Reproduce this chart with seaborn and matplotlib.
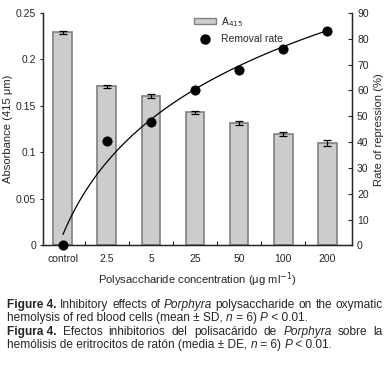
import numpy as np
import pandas as pd
import matplotlib
matplotlib.use("Agg")
import matplotlib.pyplot as plt
import seaborn as sns
from matplotlib.patches import Patch
from matplotlib.lines import Line2D
from matplotlib.ticker import FormatStrFormatter, FixedLocator, NullFormatter

sns.set_style("ticks")
plt.rcParams['font.family'] = ['Liberation Sans Narrow', 'Liberation Sans', 'DejaVu Sans']

# data
concentrations = ["control", "2.5", "5", "25", "50", "100", "200"]
absorbance = [0.229, 0.171, 0.161, 0.143, 0.132, 0.120, 0.110]
absorbance_sd = [0.0012, 0.002, 0.002, 0.0015, 0.002, 0.002, 0.003]
removal_rate = [0, 40.3, 47.8, 60.1, 67.9, 76.2, 83.1]

df = pd.DataFrame({"conc": concentrations, "A415": absorbance,
                   "sd": absorbance_sd, "rate": removal_rate})
df["idx"] = np.arange(len(df))

fig = plt.figure(figsize=(3.9, 3.68), dpi=100)
ax = fig.add_axes([0.110, 0.333, 0.793, 0.632])

sns.barplot(data=df, x="conc", y="A415", ax=ax, color="#cccccc",
            edgecolor="#808080", linewidth=1.2, width=0.43, saturation=1)
ax.errorbar(df["idx"], df["A415"], yerr=df["sd"], fmt="none",
            ecolor="black", elinewidth=0.9, capsize=3.2, capthick=0.9)

ax.set_xlim(-0.455, 6.57)
ax.set_ylim(0, 0.25)
ax.set_yticks([0, 0.05, 0.1, 0.15, 0.2, 0.25])
ax.yaxis.set_major_formatter(FormatStrFormatter('%g'))
ax.set_xlabel("Polysaccharide concentration (μg ml$^{-1}$)", fontsize=8.1, labelpad=5)
ax.set_ylabel("Absorbance (415 μm)", fontsize=8.1, labelpad=2)
ax.tick_params(axis="x", which="major", length=0, labelsize=7.5, pad=6)
ax.xaxis.set_minor_locator(FixedLocator([0.5, 1.5, 2.5, 3.5, 4.5, 5.5]))
ax.xaxis.set_minor_formatter(NullFormatter())
ax.tick_params(axis="x", which="minor", direction="in", length=3, width=0.8)
ax.tick_params(axis="y", direction="out", length=2.5, width=0.8, labelsize=7.5, pad=2.5)
for s in ax.spines.values():
    s.set_linewidth(0.9)
    s.set_color("black")
ax.spines["top"].set_visible(False)

ax2 = ax.twinx()
# logarithmic trendline through the removal rate points
coef = np.polyfit(np.log(df["idx"] + 1), df["rate"], 1)
xfit = np.linspace(0, 6, 200)
fit = pd.DataFrame({"x": xfit, "y": np.polyval(coef, np.log(xfit + 1))})
sns.lineplot(data=fit, x="x", y="y", ax=ax2, color="black", linewidth=0.9)
sns.scatterplot(data=df, x="idx", y="rate", ax=ax2, color="black", s=45,
                edgecolor="black", zorder=5, clip_on=False)
ax2.set_ylim(0, 90)
ax2.set_yticks(range(0, 91, 10))
ax2.set_ylabel("Rate of repression (%)", fontsize=8.1, labelpad=4)
ax2.tick_params(axis="y", direction="in", length=3, width=0.8, labelsize=7.5)
ax2.set_xlim(-0.455, 6.57)
ax2.set_xlabel("")
ax2.spines["top"].set_visible(False)
for s in ax2.spines.values():
    s.set_linewidth(0.9)

handles = [Patch(facecolor="#cccccc", edgecolor="#808080", linewidth=1.0),
           Line2D([], [], marker="o", linestyle="none", color="black", markersize=6.5)]
ax2.legend(handles, ["A$_{415}$", "Removal rate"], loc="upper left",
           bbox_to_anchor=(0.475, 1.01), frameon=False, fontsize=7.5,
           handlelength=2.1, handleheight=0.6, handletextpad=0.5, labelspacing=0.55,
           borderaxespad=0)

# caption, justified like the journal layout
caption = [
    ([("Figure 4.", "bold", "normal"), ("Inhibitory", "normal", "normal"),
      ("effects", "normal", "normal"), ("of", "normal", "normal"),
      ("Porphyra", "normal", "italic"), ("polysaccharide", "normal", "normal"),
      ("on", "normal", "normal"), ("the", "normal", "normal"),
      ("oxymatic", "normal", "normal")], True),
    ([("hemolysis of red blood cells (mean ± SD, ", "normal", "normal"),
      ("n", "normal", "italic"), (" = 6) ", "normal", "normal"),
      ("P", "normal", "italic"), (" < 0.01.", "normal", "normal")], False),
    ([("Figura 4.", "bold", "normal"), ("Efectos", "normal", "normal"),
      ("inhibitorios", "normal", "normal"), ("del", "normal", "normal"),
      ("polisacárido", "normal", "normal"), ("de", "normal", "normal"),
      ("Porphyra", "normal", "italic"), ("sobre", "normal", "normal"),
      ("la", "normal", "normal")], True),
    ([("hemólisis de eritrocitos de ratón (media ± DE, ", "normal", "normal"),
      ("n", "normal", "italic"), (" = 6) ", "normal", "normal"),
      ("P", "normal", "italic"), (" < 0.01.", "normal", "normal")], False),
]
line_y = [305, 318, 332, 345]
x_left, x_right = 7, 383
W, H = 390, 368
renderer = fig.canvas.get_renderer()
for (words, justify), yy in zip(caption, line_y):
    items = []
    for txt, weight, style in words:
        t = fig.text(0, 1 - yy / H, txt, fontsize=8.6, fontweight=weight,
                     fontstyle=style, va="center", ha="left")
        items.append((t, t.get_window_extent(renderer).width))
    total = sum(w for _, w in items)
    if justify:
        gap = (x_right - x_left - total) / (len(items) - 1)
    else:
        gap = 0
    x = x_left
    for t, w in items:
        t.set_x(x / W)
        x += w + gap

fig.savefig("out.png", dpi=100)
